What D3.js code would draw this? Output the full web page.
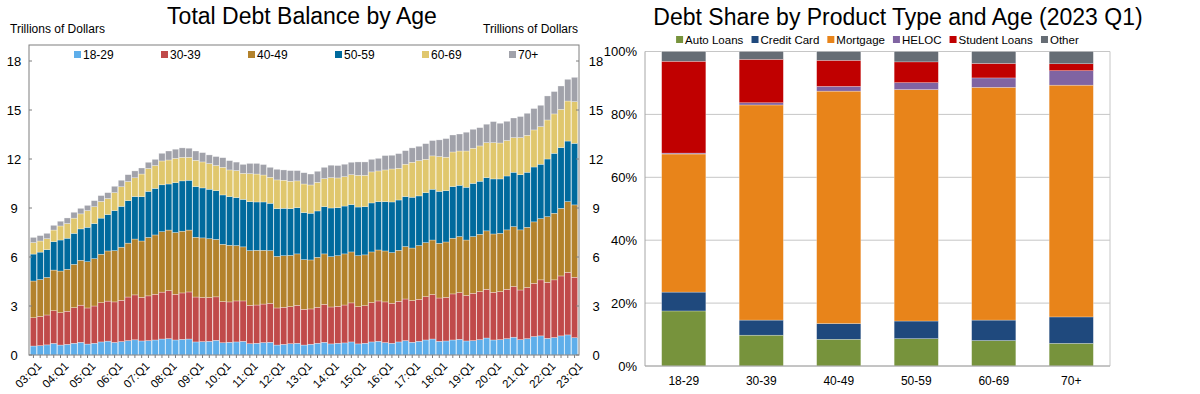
<!DOCTYPE html>
<html>
<head>
<meta charset="utf-8">
<script src="https://cdn.jsdelivr.net/npm/d3@7"></script>
<style>
  body { margin: 0; background: #fff; }
  svg { display: block; font-family: "Liberation Sans", Arial, sans-serif; }
</style>
</head>
<body>
<script>
// ---- left chart data: trillions of dollars, 2003:Q1 .. 2023:Q1 (one row per year) ----
const age18_29 = [
  0.55,0.57,0.62,0.71, 0.61,0.65,0.72,0.78, 0.67,0.72,0.80,0.85, 0.77,0.82,0.88,0.93,
  0.86,0.88,0.92,0.98, 1.00,0.92,0.96,0.98, 0.80,0.82,0.84,0.90, 0.75,0.78,0.80,0.84,
  0.69,0.72,0.76,0.78, 0.61,0.65,0.69,0.72, 0.61,0.66,0.72,0.78, 0.68,0.72,0.74,0.80,
  0.68,0.72,0.80,0.84, 0.76,0.72,0.80,0.88, 0.78,0.84,0.92,0.98, 0.84,0.86,0.92,0.96,
  0.86,0.88,0.94,1.04, 0.92,0.94,1.00,1.09, 0.94,1.00,1.13,1.17, 1.02,1.07,1.17,1.23,
  1.06];
const age30_39 = [
  1.73,1.79,1.83,2.00, 1.98,2.03,2.18,2.27, 2.21,2.28,2.40,2.45, 2.48,2.53,2.67,2.75,
  2.67,2.74,2.80,2.87, 2.94,2.80,2.84,2.88, 2.75,2.70,2.68,2.66, 2.52,2.47,2.51,2.47,
  2.35,2.34,2.36,2.38, 2.27,2.27,2.27,2.32, 2.19,2.16,2.20,2.32, 2.26,2.26,2.32,2.39,
  2.28,2.30,2.41,2.47, 2.49,2.45,2.49,2.55, 2.55,2.57,2.65,2.72, 2.65,2.67,2.82,2.86,
  2.78,2.90,2.94,2.98, 2.92,2.94,3.02,3.10, 3.04,3.13,3.26,3.43, 3.43,3.53,3.67,3.83,
  3.70];
const age40_49 = [
  2.25,2.26,2.30,2.49, 2.55,2.57,2.65,2.75, 2.83,2.90,2.97,3.07, 3.14,3.25,3.30,3.42,
  3.45,3.58,3.63,3.70, 3.71,3.78,3.78,3.79, 3.66,3.65,3.60,3.52, 3.51,3.47,3.39,3.31,
  3.35,3.35,3.29,3.23, 3.16,3.16,3.14,3.15, 3.04,3.00,3.06,3.09, 3.08,3.10,3.13,3.12,
  3.12,3.11,3.10,3.12, 3.12,3.10,3.12,3.21, 3.22,3.29,3.31,3.34, 3.35,3.39,3.41,3.43,
  3.40,3.47,3.51,3.58, 3.57,3.57,3.64,3.67, 3.68,3.69,3.76,3.75, 4.02,4.08,4.14,4.33,
  4.43];
const age50_59 = [
  1.65,1.68,1.70,1.74, 1.90,1.90,1.90,1.92, 2.11,2.15,2.21,2.23, 2.45,2.50,2.60,2.60,
  2.71,2.82,2.85,2.87, 2.82,3.05,3.08,3.05, 3.10,3.06,3.03,2.98, 3.02,2.98,2.94,2.91,
  3.00,2.96,2.96,2.90, 2.92,2.90,2.86,2.83, 2.88,2.86,2.84,2.89, 2.98,2.94,2.93,2.90,
  2.98,2.95,3.00,2.96, 3.02,3.10,3.08,3.06, 3.11,3.04,3.06,3.11, 3.18,3.14,3.16,3.14,
  3.23,3.26,3.25,3.26, 3.37,3.33,3.30,3.33, 3.38,3.37,3.36,3.33, 3.53,3.67,3.72,3.71,
  3.77];
const age60_69 = [
  0.70,0.68,0.67,0.71, 0.86,0.90,0.93,0.92, 1.02,1.03,1.02,0.98, 1.10,1.20,1.17,1.15,
  1.39,1.40,1.40,1.46, 1.47,1.49,1.44,1.40, 1.61,1.59,1.57,1.54, 1.69,1.63,1.65,1.59,
  1.71,1.71,1.65,1.59, 1.76,1.72,1.68,1.64, 1.75,1.73,1.75,1.72, 1.86,1.82,1.80,1.83,
  1.94,1.92,1.90,1.88, 1.94,2.02,1.94,1.98, 2.14,2.16,2.04,2.04, 2.13,2.05,2.12,2.10,
  2.22,2.15,2.16,2.14, 2.22,2.20,2.17,2.12, 2.27,2.26,2.27,2.30, 2.39,2.41,2.34,2.45,
  2.55];
const age70plus = [
  0.32,0.33,0.33,0.29, 0.29,0.34,0.36,0.34, 0.32,0.37,0.36,0.36, 0.39,0.40,0.42,0.42,
  0.37,0.38,0.38,0.47, 0.55,0.56,0.58,0.56, 0.57,0.57,0.53,0.55, 0.59,0.57,0.52,0.55,
  0.63,0.65,0.64,0.61, 0.65,0.63,0.65,0.63, 0.69,0.67,0.68,0.69, 0.76,0.76,0.76,0.76,
  0.82,0.82,0.77,0.77, 0.88,0.84,0.90,0.83, 0.88,0.88,0.96,0.94, 1.02,1.14,1.04,1.04,
  1.15,1.16,1.12,1.13, 1.29,1.21,1.18,1.20, 1.29,1.35,1.31,1.31, 1.47,1.37,1.43,1.33,
  1.49];

const ageGroups = ['18-29', '30-39', '40-49', '50-59', '60-69', '70+'];
const ageColors = ['#5eaeea', '#c04a4a', '#b3822c', '#006a9d', '#e0c76d', '#a1a2aa'];
const yearTicks = ['03:Q1','04:Q1','05:Q1','06:Q1','07:Q1','08:Q1','09:Q1','10:Q1','11:Q1','12:Q1',
  '13:Q1','14:Q1','15:Q1','16:Q1','17:Q1','18:Q1','19:Q1','20:Q1','21:Q1','22:Q1','23:Q1'];
const balanceTicks = [0, 3, 6, 9, 12, 15, 18];

// ---- right chart data: percent of each age group's debt, 2023 Q1 ----
const shareAges = ['18-29', '30-39', '40-49', '50-59', '60-69', '70+'];
const autoLoans    = [17.5,  9.8,  8.5,  8.7,  8.1,  7.2];
const creditCard   = [ 6.0,  4.8,  5.0,  5.6,  6.5,  8.4];
const mortgage     = [43.9, 68.4, 73.9, 73.6, 74.0, 73.7];
const heloc        = [ 0.3,  0.7,  1.5,  2.2,  3.0,  4.6];
const studentLoans = [29.2, 13.8,  8.3,  6.6,  4.6,  2.2];
const otherDebt    = [ 3.1,  2.5,  2.8,  3.3,  3.8,  3.9];
const products = ['Auto Loans', 'Credit Card', 'Mortgage', 'HELOC', 'Student Loans', 'Other'];
const productColors = ['#77933c', '#1f497d', '#e8841a', '#8064a2', '#c00000', '#666d75'];
const shareTicks = [0, 20, 40, 60, 80, 100];

const width = 1200;
const height = 394;

const svg = d3.select('body').append('svg')
  .attr('width', width)
  .attr('height', height);

// ================= left: Total Debt Balance by Age =================
const quarters = [];
for (let yr = 3; yr <= 23; yr++) {
  for (let q = 1; q <= 4; q++) {
    if (yr === 23 && q > 1) break;
    quarters.push(String(yr).padStart(2, '0') + ':Q' + q);
  }
}
const ageSeries = [age18_29, age30_39, age40_49, age50_59, age60_69, age70plus];
const balanceRows = quarters.map((q, i) => {
  const row = { q };
  ageGroups.forEach((g, j) => row[g] = ageSeries[j][i]);
  return row;
});
const balanceStack = d3.stack().keys(ageGroups)(balanceRows);

const L = { left: 29, right: 579, top: 45, bottom: 355 };
const xL = d3.scaleBand().domain(quarters).range([L.left + 1, L.right - 1]).paddingInner(0.08).paddingOuter(0.05);
const yL = d3.scaleLinear().domain([0, 18]).range([L.bottom, 61]);

const left = svg.append('g');

left.append('text')
  .attr('x', 302).attr('y', 24)
  .attr('text-anchor', 'middle')
  .attr('font-size', 23)
  .text('Total Debt Balance by Age');

left.append('text').attr('x', 10).attr('y', 33).attr('font-size', 12).text('Trillions of Dollars');
left.append('text').attr('x', 578).attr('y', 33).attr('font-size', 12).attr('text-anchor', 'end').text('Trillions of Dollars');

left.append('g')
  .selectAll('g')
  .data(balanceStack)
  .join('g')
  .attr('fill', (d, i) => ageColors[i])
  .selectAll('rect')
  .data(d => d)
  .join('rect')
  .attr('x', d => xL(d.data.q))
  .attr('width', xL.bandwidth())
  .attr('y', d => yL(d[1]))
  .attr('height', d => yL(d[0]) - yL(d[1]))
  .attr('stroke', '#ffffff')
  .attr('stroke-opacity', 0.6)
  .attr('stroke-width', 0.5);

// frame
left.append('rect')
  .attr('x', L.left).attr('y', L.top)
  .attr('width', L.right - L.left).attr('height', L.bottom - L.top)
  .attr('fill', 'none').attr('stroke', '#7f7f7f').attr('stroke-width', 1);

// y ticks, both sides
const yTickG = left.append('g').selectAll('g').data(balanceTicks).join('g');
yTickG.append('line')
  .attr('x1', L.left).attr('x2', L.left + 3)
  .attr('y1', d => yL(d)).attr('y2', d => yL(d))
  .attr('stroke', '#7f7f7f');
yTickG.append('line')
  .attr('x1', L.right).attr('x2', L.right - 3)
  .attr('y1', d => yL(d)).attr('y2', d => yL(d))
  .attr('stroke', '#7f7f7f');
yTickG.append('text')
  .attr('x', 14).attr('y', d => yL(d)).attr('dy', '0.35em')
  .attr('text-anchor', 'middle').attr('font-size', 13)
  .text(d => d);
yTickG.append('text')
  .attr('x', 596).attr('y', d => yL(d)).attr('dy', '0.35em')
  .attr('text-anchor', 'middle').attr('font-size', 13)
  .text(d => d);

// x ticks under every bar, labels each Q1
left.append('g').selectAll('line')
  .data(quarters)
  .join('line')
  .attr('x1', d => xL(d) + xL.bandwidth() / 2).attr('x2', d => xL(d) + xL.bandwidth() / 2)
  .attr('y1', L.bottom).attr('y2', L.bottom + 3)
  .attr('stroke', '#7f7f7f');
left.append('g').selectAll('text')
  .data(yearTicks)
  .join('text')
  .attr('transform', d => `translate(${xL(d) + xL.bandwidth() / 2 + 3},${L.bottom + 6}) rotate(-45)`)
  .attr('text-anchor', 'end')
  .attr('dy', '0.7em')
  .attr('font-size', 11.5)
  .text(d => d);

// legend
const legL = left.append('g').selectAll('g').data(ageGroups).join('g')
  .attr('transform', (d, i) => `translate(${74 + i * 87},${55})`);
legL.append('rect').attr('x', 0).attr('y', -4).attr('width', 7).attr('height', 7)
  .attr('fill', (d, i) => ageColors[i]);
legL.append('text').attr('x', 9).attr('dy', '0.35em').attr('font-size', 12).text(d => d);

// ================= right: Debt Share by Product Type and Age =================
const productSeries = [autoLoans, creditCard, mortgage, heloc, studentLoans, otherDebt];
const shareRows = shareAges.map((a, i) => {
  const row = { age: a };
  products.forEach((p, j) => row[p] = productSeries[j][i]);
  return row;
});
const shareStack = d3.stack().keys(products)(shareRows);

const R = { left: 645, right: 1110, top: 51.5, bottom: 366 };
const xR = d3.scaleBand().domain(shareAges).range([R.left, R.right]).paddingInner(0.43).paddingOuter(0.215);
const yR = d3.scaleLinear().domain([0, 100]).range([R.bottom, R.top]);

const right = svg.append('g');

right.append('text')
  .attr('x', 898).attr('y', 25)
  .attr('text-anchor', 'middle')
  .attr('font-size', 23)
  .text('Debt Share by Product Type and Age (2023 Q1)');

// grid + frame
right.append('g').selectAll('line')
  .data(shareTicks)
  .join('line')
  .attr('x1', R.left).attr('x2', R.right)
  .attr('y1', d => yR(d)).attr('y2', d => yR(d))
  .attr('stroke', '#c6c6c6');
right.append('line')
  .attr('x1', R.right).attr('x2', R.right).attr('y1', R.top).attr('y2', R.bottom)
  .attr('stroke', '#c6c6c6');

right.append('g')
  .selectAll('g')
  .data(shareStack)
  .join('g')
  .attr('fill', (d, i) => productColors[i])
  .selectAll('rect')
  .data(d => d)
  .join('rect')
  .attr('x', d => xR(d.data.age))
  .attr('width', xR.bandwidth())
  .attr('y', d => yR(d[1]))
  .attr('height', d => yR(d[0]) - yR(d[1]))
  .attr('stroke', '#ffffff')
  .attr('stroke-opacity', 0.5)
  .attr('stroke-width', 0.5);

right.append('line')
  .attr('x1', R.left).attr('x2', R.left).attr('y1', R.top).attr('y2', R.bottom)
  .attr('stroke', '#a6a6a6');
right.append('line')
  .attr('x1', R.left).attr('x2', R.right).attr('y1', R.bottom).attr('y2', R.bottom)
  .attr('stroke', '#a6a6a6');

right.append('g').selectAll('text')
  .data(shareTicks)
  .join('text')
  .attr('x', R.left - 8).attr('y', d => yR(d)).attr('dy', '0.35em')
  .attr('text-anchor', 'end').attr('font-size', 13)
  .text(d => d + '%');

right.append('g').selectAll('text')
  .data(shareAges)
  .join('text')
  .attr('x', d => xR(d) + xR.bandwidth() / 2).attr('y', 385)
  .attr('text-anchor', 'middle').attr('font-size', 12)
  .text(d => d);

// legend, laid out from measured text widths and centred on the plot
const legGap = 8;
const legR = right.append('g').attr('font-size', 11.5);
const items = legR.selectAll('g').data(products).join('g');
items.append('rect').attr('x', 0).attr('y', -4).attr('width', 7).attr('height', 7)
  .attr('fill', (d, i) => productColors[i]);
items.append('text').attr('x', 9).attr('dy', '0.35em').text(d => d);
let cursor = 0;
const offsets = [];
items.each(function () {
  offsets.push(cursor);
  cursor += this.getBBox().width + legGap;
});
cursor -= legGap;
const legStart = (R.left + R.right) / 2 - cursor / 2;
items.attr('transform', (d, i) => `translate(${legStart + offsets[i]},${40})`);
</script>
</body>
</html>
